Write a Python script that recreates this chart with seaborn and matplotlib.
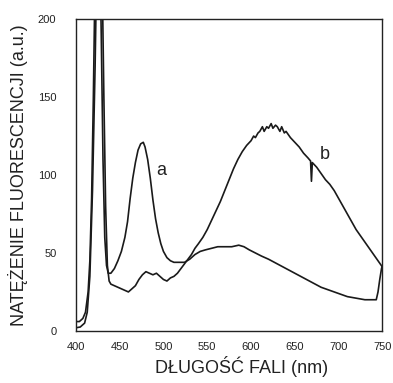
import pandas as pd
import matplotlib
matplotlib.use('Agg')
import matplotlib.pyplot as plt
import seaborn as sns

# Curve a: sharp peak near 475 nm
wl_a = [400, 404, 408, 411, 414, 416, 418, 420, 422, 425, 427, 429, 431, 433, 435, 437,
        440, 444, 448, 452, 456, 459, 462, 465, 468, 471, 474, 477, 479, 482, 485, 488,
        491, 494, 497, 500, 504, 508, 512, 518, 524, 530, 536, 542, 548, 555, 562, 570,
        578, 586, 592, 598, 605, 612, 620, 630, 640, 650, 660, 670, 680, 690, 700, 710,
        720, 730, 738, 743, 745, 747, 749, 750]
int_a = [6, 6, 8, 12, 25, 45, 85, 150, 230, 290, 260, 190, 110, 60, 42, 37,
         37, 40, 45, 51, 60, 70, 85, 98, 108, 116, 120, 121, 118, 110, 98, 84,
         72, 63, 56, 51, 47, 45, 44, 44, 44, 46, 49, 51, 52, 53, 54, 54,
         54, 55, 54, 52, 50, 48, 46, 43, 40, 37, 34, 31, 28, 26, 24, 22,
         21, 20, 20, 20, 25, 33, 40, 42]

# Curve b: broad band around 620 nm
wl_b = [400, 405, 410, 413, 416, 419, 422, 424, 428, 430, 432, 434, 436, 438, 440, 444,
        448, 452, 456, 460, 464, 468, 472, 476, 480, 484, 488, 492, 496, 500, 504, 508,
        512, 516, 520, 524, 528, 532, 536, 540, 545, 550, 555, 560, 565, 570, 575, 580,
        585, 590, 595, 600, 603, 605, 608, 610, 613, 615, 618, 620, 623, 625, 628, 630,
        633, 635, 638, 640, 645, 650, 655, 660, 665, 668, 669, 670, 675, 680, 685, 690,
        695, 700, 705, 710, 715, 720, 725, 730, 735, 740, 745, 750]
int_b = [2, 2.5, 5, 12, 35, 90, 170, 240, 280, 230, 150, 80, 42, 32, 30, 29,
         28, 27, 26, 25, 27, 29, 33, 36, 38, 37, 36, 37, 35, 33, 32, 34,
         35, 37, 40, 43, 46, 49, 53, 56, 60, 65, 71, 77, 83, 90, 97, 104,
         110, 115, 119, 122, 125, 124, 127, 128, 131, 128, 131, 130, 133, 130, 132, 131,
         128, 131, 127, 128, 124, 121, 118, 114, 111, 109, 96, 108, 105, 101, 97, 94,
         90, 85, 80, 75, 70, 65, 61, 57, 53, 49, 45, 41]

xticks = [400, 450, 500, 550, 600, 650, 700, 750]
yticks = [0, 50, 100, 150, 200]

df = pd.concat([
    pd.DataFrame({'wl': wl_a, 'val': int_a, 'curve': 'a'}),
    pd.DataFrame({'wl': wl_b, 'val': int_b, 'curve': 'b'}),
])

sns.set_style('white')
plt.rcParams['font.family'] = ['Liberation Sans', 'DejaVu Sans']

fig = plt.figure(figsize=(3.93, 3.83), dpi=100)
ax = fig.add_axes([0.193, 0.136, 0.780, 0.814])

sns.lineplot(data=df, x='wl', y='val', units='curve', estimator=None, sort=False,
             color='#1a1a1a', linewidth=1.2, ax=ax)

ax.set_xlim(400, 750)
ax.set_ylim(0, 200)
ax.set_xticks(xticks)
ax.set_yticks(yticks)
ax.tick_params(axis='x', direction='in', length=4, pad=8, labelsize=8, colors='#222222')
ax.tick_params(axis='y', direction='out', length=6, pad=8, labelsize=8, colors='#222222')
for s in ax.spines.values():
    s.set_color('#222222')
    s.set_linewidth(1.0)

ax.set_xlabel('DŁUGOŚĆ FALI (nm)', fontsize=13, color='#222222', x=0.54, labelpad=3)
ax.set_ylabel('NATĘŻENIE FLUORESCENCJI (a.u.)', fontsize=13, color='#222222', labelpad=7)

ax.text(498, 103, 'a', fontsize=13, ha='center', va='center', color='#222222')
ax.text(684, 113, 'b', fontsize=13, ha='center', va='center', color='#222222')

fig.savefig('out.png', dpi=100)
